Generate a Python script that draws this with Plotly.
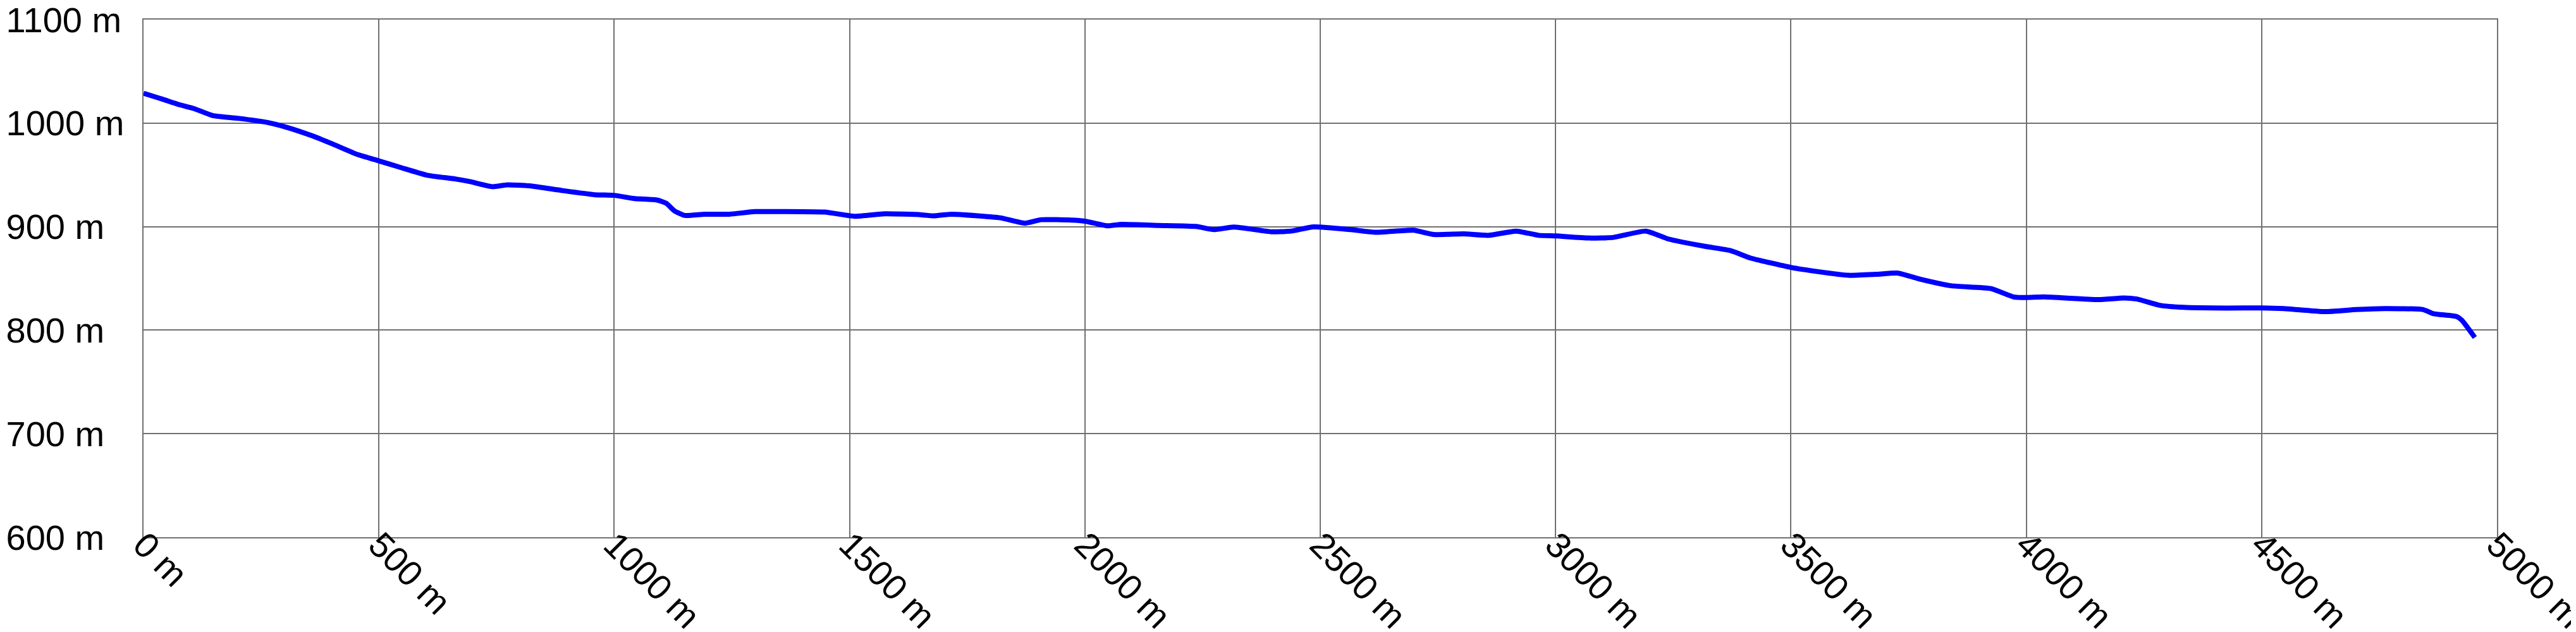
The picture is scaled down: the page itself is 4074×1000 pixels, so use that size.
import plotly.graph_objects as go

distance_m = [0, 41, 73, 107, 147, 200, 264, 306, 359, 402, 455, 500, 545, 603, 662, 694, 741, 773, 820,
              889, 959, 1000, 1044, 1091, 1110, 1129, 1150, 1192, 1245, 1299, 1352, 1447, 1511, 1575, 1653,
              1679, 1716, 1785, 1822, 1872, 1907, 1971, 2000, 2048, 2077, 2157, 2236, 2274, 2316, 2396, 2438,
              2486, 2565, 2618, 2698, 2741, 2804, 2858, 2916, 2964, 3000, 3070, 3123, 3192, 3240, 3319,
              3372, 3414, 3500, 3558, 3622, 3680, 3728, 3770, 3840, 3925, 3973, 4000, 4037, 4153,
              4207, 4235, 4284, 4334, 4426, 4500, 4547, 4635, 4701, 4761, 4843, 4865, 4914, 4925, 4953]

elevation_m = [1028.8, 1023, 1018.2, 1014.1, 1007.3, 1004.7, 1000.6, 995.7, 987.6, 979.8, 969.6, 963.5,
               957.3, 949.6, 946.1, 943.5, 938.6, 940.4, 939.4, 934.9, 930.8, 930.2, 927.1, 925.7, 922.7,
               914.9, 910.8, 912.0, 912.0, 914.5, 914.5, 914.1, 910.0, 912.4, 911.4, 910.4, 912.0, 910.0,
               908.4, 903.3, 906.7, 906.3, 905.3, 900.8, 902.2, 901.2, 900.2, 897.1, 899.6, 895.1, 895.7,
               899.8, 897.1, 894.5, 896.5, 892.4, 893.1, 891.6, 895.7, 891.6, 891.0, 889.0, 889.6, 895.7,
               888.0, 880.8, 876.8, 869.7, 860.6, 856.5, 853.0, 853.9, 855.1, 849.8, 842.9, 840.2, 832.1,
               831.5, 832.1, 829.5, 831.1, 830.1, 824.0, 822.0, 821.3, 821.5, 820.9, 817.9, 819.9, 820.9,
               819.9, 815.9, 813.2, 809.8, 792.9]

x_ticks = [0, 500, 1000, 1500, 2000, 2500, 3000, 3500, 4000, 4500, 5000]
x_tick_labels = ["0 m", "500 m", "1000 m", "1500 m", "2000 m", "2500 m", "3000 m",
                 "3500 m", "4000 m", "4500 m", "5000 m"]
y_ticks = [600, 700, 800, 900, 1000, 1100]
y_tick_labels = ["600 m", "700 m", "800 m", "900 m", "1000 m", "1100 m"]

FONT = "Liberation Sans, Arial, sans-serif"
W, H = 4074, 1000
ML, MR, MT, MB = 219, 133, 23, 158
GRID = "#707070"

fig = go.Figure()
fig.add_trace(go.Scatter(
    x=distance_m, y=elevation_m, mode="lines",
    line=dict(color="#0000FF", width=8, shape="spline", smoothing=0.5),
    hoverinfo="skip", showlegend=False,
))

fig.update_layout(
    width=W, height=H,
    margin=dict(l=ML, r=MR, t=MT, b=MB, pad=0, autoexpand=False),
    paper_bgcolor="#FFFFFF", plot_bgcolor="#FFFFFF",
    showlegend=False,
    font=dict(family=FONT, size=56, color="#000000"),
)
fig.update_xaxes(
    range=[0, 5000], tickmode="array", tickvals=x_ticks, ticktext=x_tick_labels,
    tickangle=45, ticklabeloverflow="allow", automargin=False,
    ticklabelstandoff=-45,
    showgrid=True, gridcolor=GRID, gridwidth=1.5,
    showline=True, linecolor=GRID, linewidth=1.5, mirror=True,
    zeroline=False, ticks="", tickfont=dict(family=FONT, size=56, color="#000000"),
)
fig.update_yaxes(
    range=[600, 1100], tickmode="array", tickvals=y_ticks, ticktext=y_tick_labels,
    ticklabelposition="inside", ticklabelstandoff=-ML + 10, ticklabeloverflow="allow",
    automargin=False,
    showgrid=True, gridcolor=GRID, gridwidth=1.5,
    showline=True, linecolor=GRID, linewidth=1.5, mirror=True,
    zeroline=False, ticks="", tickfont=dict(family=FONT, size=56, color="#000000"),
)

fig.write_html("out.html")
